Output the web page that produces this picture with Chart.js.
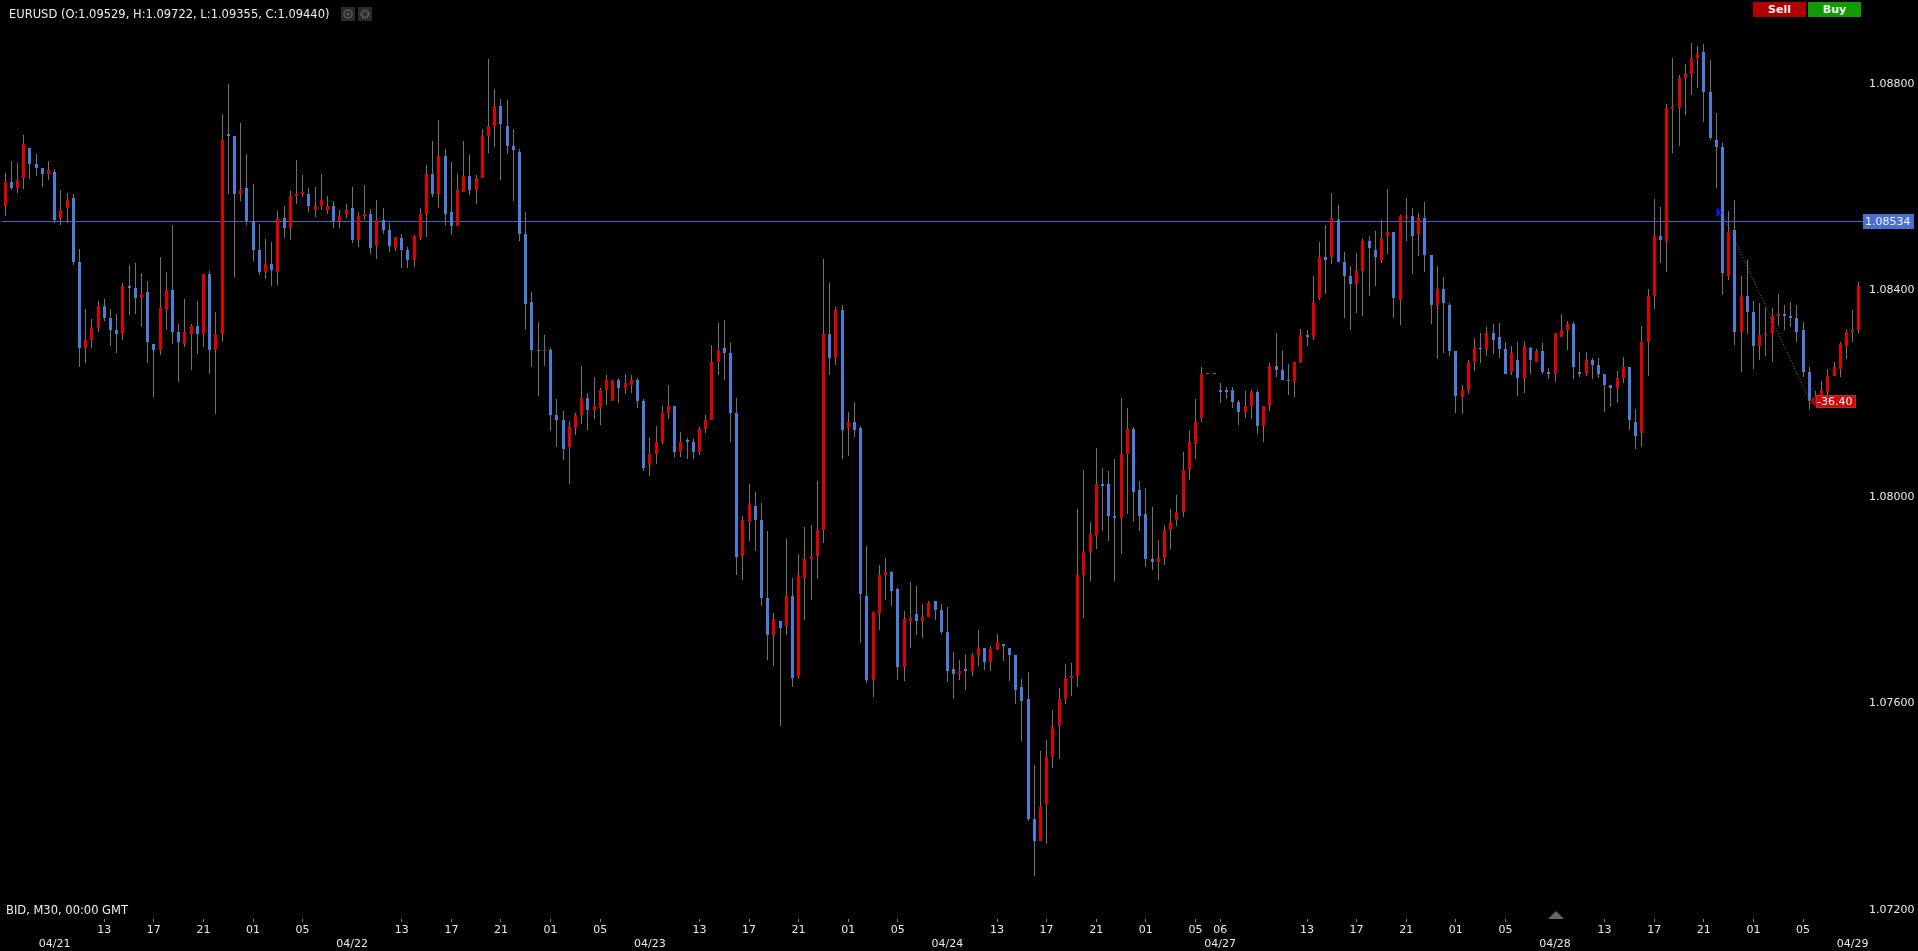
<!DOCTYPE html>
<html>
<head>
<meta charset="utf-8">
<title>EURUSD</title>
<script src="https://cdn.jsdelivr.net/npm/chart.js@4"></script>
<style>
  html, body { margin: 0; padding: 0; background: #000; overflow: hidden; }
  #wrap { position: relative; width: 1918px; height: 951px; }
  #chart { position: absolute; left: 0; top: 0; }
  .txt { position: absolute; color: #f0f0e0; font: 11.5px "DejaVu Sans", sans-serif; white-space: nowrap; }
  .btn { position: absolute; top: 2px; width: 53px; height: 15px; color: #eee; font: bold 11px/15px "DejaVu Sans", sans-serif; text-align: center; }
  .ico { position: absolute; top: 7px; width: 14px; height: 14px; background: #2a2a2a; }
  #marker { position: absolute; left: 1548px; top: 911px; width: 0; height: 0; border-left: 8px solid transparent; border-right: 8px solid transparent; border-bottom: 8px solid #666; }
</style>
</head>
<body>
<div id="wrap">
  <canvas id="chart" width="1918" height="951"></canvas>
  <div class="txt" style="left:9px;top:7px">EURUSD (O:1.09529, H:1.09722, L:1.09355, C:1.09440)</div>
  <div class="ico" style="left:341px"><svg width="14" height="14"><circle cx="7" cy="7" r="4" fill="none" stroke="#5c5c5c" stroke-width="1.5"/><circle cx="7" cy="7" r="1.5" fill="#5c5c5c"/></svg></div>
  <div class="ico" style="left:358px"><svg width="14" height="14"><circle cx="7" cy="7" r="3.5" fill="none" stroke="#5c5c5c" stroke-width="2.5" stroke-dasharray="1.5 0.7"/></svg></div>
  <div class="btn" style="left:1753px;background:#b00000">Sell</div>
  <div class="btn" style="left:1808px;background:#129a00">Buy</div>
  <div class="txt" style="left:6px;top:903px">BID, M30, 00:00 GMT</div>
  <div id="marker"></div>
</div>
<script>
// ── Data, in points (1 point = 0.00001) ───────
const opens = [
  108564,108610,108598,108618,108676,108645,108637,108625,108629,108540,
  108560,108579,108455,108289,108304,108327,108370,108347,108323,108316,
  108409,108405,108385,108397,108296,108285,108362,108401,108320,108296,
  108316,108331,108316,108432,108285,108316,108703,108699,108587,108598,
  108534,108478,108436,108451,108436,108540,108521,108583,108587,108587,
  108556,108564,108556,108564,108534,108549,108560,108498,108545,108549,
  108487,108537,108518,108483,108502,108479,108459,108502,108549,108626,
  108587,108661,108552,108525,108591,108622,108595,108618,108700,108719,
  108758,108719,108680,108669,108510,108378,108285,108282,108285,108158,
  108150,108096,108134,108158,108192,108169,108173,108208,108185,108227,
  108212,108216,108227,108185,108061,108084,108107,108162,108177,108088,
  108111,108107,108088,108131,108150,108262,108289,108278,108162,107886,
  107952,107983,107956,107805,107732,107759,107751,107809,107654,107844,
  107879,107886,107937,108316,108270,108363,108134,108146,108134,107809,
  107646,107774,107848,107855,107821,107670,107759,107774,107759,107767,
  107798,107782,107739,107666,107658,107666,107662,107693,107708,107681,
  107705,107716,107708,107693,107631,107608,107376,107333,107406,107496,
  107557,107608,107650,107654,107848,107894,107925,108026,108026,107964,
  107960,108084,108131,108014,107968,107879,107874,107882,107936,107956,
  107971,108052,108103,108153,108238,108238,108207,108207,108207,108184,
  108165,108176,108203,108138,108176,108254,108246,108227,108224,108262,
  108313,108309,108386,108464,108464,108537,108456,108429,108413,108437,
  108495,108479,108460,108506,108514,108382,108541,108545,108510,108541,
  108468,108371,108402,108371,108282,108193,108208,108262,108289,108286,
  108317,108309,108286,108243,108266,108231,108289,108262,108282,108243,
  108239,108309,108324,108336,108243,108239,108266,108255,108239,108216,
  108212,108231,108251,108146,108123,108301,108390,108506,108495,108752,
  108754,108812,108820,108851,108862,108785,108692,108677,108429,108518,
  108320,108390,108359,108293,108313,108316,108351,108355,108351,108347,
  108324,108243,108185,108195,108204,108235,108247,108293,108320,108324
];
const closes = [
  108610,108598,108614,108684,108645,108637,108625,108633,108536,108556,
  108575,108455,108289,108304,108327,108370,108347,108323,108316,108409,
  108405,108385,108393,108300,108285,108366,108401,108320,108300,108320,
  108331,108316,108432,108285,108316,108691,108699,108587,108594,108534,
  108478,108436,108451,108440,108540,108521,108583,108587,108591,108564,
  108564,108576,108564,108534,108545,108556,108498,108545,108549,108483,
  108537,108518,108487,108502,108479,108459,108506,108549,108626,108587,
  108661,108549,108525,108595,108622,108595,108618,108700,108719,108758,
  108723,108680,108672,108510,108374,108285,108282,108285,108158,108150,
  108092,108138,108158,108192,108169,108177,108208,108227,108227,108212,
  108220,108227,108185,108057,108084,108107,108162,108177,108088,108107,
  108107,108088,108131,108150,108262,108285,108278,108162,107883,107956,
  107987,107956,107805,107732,107763,107747,107809,107650,107848,107879,
  107886,107937,108316,108270,108363,108130,108146,108130,107813,107646,
  107778,107848,107855,107817,107670,107763,107766,107759,107767,107794,
  107782,107739,107662,107658,107662,107662,107693,107708,107681,107705,
  107720,107712,107693,107627,107604,107376,107333,107399,107496,107554,
  107608,107650,107654,107848,107894,107929,108026,108022,107964,107960,
  108084,108131,108010,107964,107879,107875,107882,107936,107952,107971,
  108052,108107,108145,108238,108240,108240,108203,108203,108184,108165,
  108176,108203,108138,108176,108254,108246,108227,108224,108262,108313,
  108309,108378,108464,108460,108541,108456,108429,108413,108437,108495,
  108483,108464,108502,108514,108386,108545,108545,108506,108541,108468,
  108371,108402,108375,108282,108196,108208,108262,108289,108286,108317,
  108305,108286,108239,108278,108231,108293,108266,108282,108243,108239,
  108317,108324,108336,108251,108239,108266,108255,108239,108216,108212,
  108231,108251,108150,108119,108301,108390,108506,108498,108754,108756,
  108812,108820,108851,108859,108785,108696,108677,108433,108514,108320,
  108390,108359,108293,108313,108316,108351,108355,108351,108347,108320,
  108243,108185,108195,108208,108235,108251,108297,108320,108324,108409
];
const highs = [
  108627,108650,108646,108701,108676,108664,108637,108650,108636,108594,
  108588,108586,108480,108365,108344,108379,108383,108365,108354,108414,
  108449,108453,108433,108418,108296,108464,108435,108526,108336,108383,
  108335,108379,108432,108437,108358,108742,108800,108699,108724,108664,
  108607,108528,108499,108493,108553,108563,108593,108652,108623,108598,
  108600,108625,108583,108574,108556,108568,108600,108552,108604,108558,
  108575,108559,108531,108504,108509,108485,108508,108559,108643,108689,
  108730,108674,108649,108625,108689,108662,108623,108712,108848,108790,
  108770,108769,108712,108674,108552,108397,108339,108314,108289,108190,
  108167,108147,108163,108253,108202,108233,108212,108236,108227,108231,
  108238,108236,108231,108189,108117,108138,108176,108216,108177,108125,
  108114,108112,108136,108159,108294,108337,108342,108298,108192,107964,
  108025,108010,107988,107934,107776,107759,107919,107843,107890,107942,
  107946,108031,108461,108414,108368,108372,108165,108184,108138,107905,
  107778,107868,107882,107857,107824,107779,107835,107828,107793,107799,
  107798,107793,107787,107700,107685,107694,107698,107743,107708,107712,
  107735,107716,107708,107693,107648,107661,107481,107508,107530,107587,
  107630,107677,107679,107977,108053,107952,108095,108056,108051,108074,
  108191,108172,108136,108031,108018,107981,107916,107945,107976,108003,
  108088,108127,108189,108251,108240,108240,108220,108214,108214,108187,
  108205,108207,108208,108176,108259,108317,108283,108258,108262,108326,
  108324,108428,108494,108526,108589,108566,108475,108448,108473,108500,
  108506,108515,108537,108597,108514,108547,108579,108560,108550,108571,
  108468,108448,108426,108376,108283,108216,108266,108308,108318,108329,
  108335,108337,108300,108293,108300,108302,108291,108287,108299,108250,
  108317,108355,108341,108339,108280,108280,108270,108270,108239,108216,
  108245,108272,108251,108171,108332,108403,108578,108562,108762,108850,
  108818,108839,108879,108873,108877,108846,108744,108686,108553,108575,
  108428,108460,108380,108375,108367,108367,108394,108371,108378,108371,
  108339,108251,108206,108225,108247,108262,108301,108326,108363,108417
];
const lows = [
  108544,108594,108589,108596,108616,108622,108600,108614,108531,108527,
  108531,108449,108252,108260,108289,108320,108341,108292,108279,108304,
  108352,108354,108329,108260,108194,108275,108323,108296,108223,108291,
  108246,108277,108291,108238,108161,108300,108587,108426,108573,108527,
  108457,108430,108422,108409,108411,108502,108498,108567,108581,108552,
  108542,108556,108549,108521,108521,108541,108492,108485,108537,108471,
  108461,108510,108475,108477,108444,108444,108446,108498,108504,108581,
  108560,108527,108508,108525,108591,108585,108568,108618,108667,108678,
  108614,108665,108574,108496,108326,108251,108196,108253,108127,108096,
  108071,108026,108121,108142,108129,108152,108140,108179,108185,108183,
  108200,108202,108173,108051,108040,108063,108103,108152,108078,108078,
  108074,108074,108082,108123,108150,108237,108227,108107,107848,107840,
  107915,107896,107788,107685,107673,107557,107732,107631,107648,107761,
  107801,107842,107910,108237,108256,108074,108080,108117,107718,107639,
  107613,107743,107801,107788,107646,107644,107708,107733,107726,107767,
  107761,107734,107641,107608,107645,107627,107654,107672,107664,107662,
  107703,107683,107643,107600,107527,107372,107265,107333,107327,107476,
  107492,107600,107614,107631,107765,107838,107900,107935,107914,107838,
  107890,107968,107954,107935,107865,107858,107839,107868,107899,107944,
  107961,108033,108074,108145,108238,108238,108182,108190,108172,108139,
  108153,108151,108122,108107,108167,108232,108227,108198,108193,108260,
  108293,108305,108382,108394,108452,108456,108346,108324,108357,108351,
  108390,108408,108454,108471,108347,108334,108495,108431,108466,108435,
  108336,108268,108278,108274,108162,108160,108200,108245,108260,108274,
  108276,108270,108239,108237,108196,108202,108239,108262,108239,108229,
  108222,108309,108284,108229,108233,108235,108229,108231,108164,108175,
  108183,108220,108129,108092,108096,108235,108365,108454,108435,108667,
  108680,108739,108779,108793,108727,108692,108599,108392,108421,108295,
  108243,108315,108247,108266,108274,108262,108332,108324,108330,108301,
  108233,108171,108182,108189,108198,108235,108233,108268,108301,108318
];

const hourTicks = [
  [16,'13'],[24,'17'],[32,'21'],[40,'01'],[48,'05'],
  [64,'13'],[72,'17'],[80,'21'],[88,'01'],[96,'05'],
  [112,'13'],[120,'17'],[128,'21'],[136,'01'],[144,'05'],
  [160,'13'],[168,'17'],[176,'21'],[184,'01'],[192,'05'],[196,'06'],
  [210,'13'],[218,'17'],[226,'21'],[234,'01'],[242,'05'],
  [258,'13'],[266,'17'],[274,'21'],[282,'01'],[290,'05']
];
const dateTicks = [[8,'04/21'],[56,'04/22'],[104,'04/23'],[152,'04/24'],[196,'04/27'],[250,'04/28'],[298,'04/29']];
const priceTicks = [1.072, 1.076, 1.08, 1.084, 1.088];
const currentPrice = 1.08534;
const trade = { from: 277, to: 291, open: 1.08549, close: 1.08189, pips: '-36.40' };
const yMin = 1.071826, yMax = 1.089239;

const RED = '#e00000', BLUE = '#4c7dd8', GREY = '#727272';

// ── Labels for the two-row time axis ──────────
const hourAt = Object.fromEntries(hourTicks);
const dateAt = Object.fromEntries(dateTicks);
const labels = opens.map((_, i) => [hourAt[i] || '', dateAt[i] || '']);

const toPrice = v => v / 100000;
const bodyColor = (o, c) => Math.abs(c - o) < 3 ? GREY : (c > o ? RED : BLUE);

// ── Snap bars to whole pixels, the way the terminal draws them ──
const snapBars = {
  id: 'snapBars',
  beforeDatasetsDraw(chart) {
    chart.data.datasets.forEach((ds, n) => {
      if (ds.type === 'line') return;
      chart.getDatasetMeta(n).data.forEach(el => {
        el.x = Math.floor(el.x) + 0.5;
        el.y = Math.round(el.y);
        el.base = Math.round(el.base);
      });
    });
  }
};

// ── Current price line and the two tags ───────
const overlays = {
  id: 'overlays',
  beforeDatasetsDraw(chart) {
    const { ctx, chartArea, scales } = chart;
    const y = Math.floor(scales.y.getPixelForValue(currentPrice));
    ctx.save();
    ctx.fillStyle = '#3f5fc4';
    ctx.fillRect(chartArea.left, y, chartArea.width + 2, 1);
    ctx.restore();
  },
  afterDraw(chart) {
    const { ctx, chartArea, scales } = chart;
    const y = Math.floor(scales.y.getPixelForValue(currentPrice));
    ctx.save();
    ctx.font = '11px "DejaVu Sans", sans-serif';
    ctx.textBaseline = 'middle';

    // price tag on the axis
    ctx.fillStyle = '#4a6fd4';
    ctx.fillRect(chartArea.right + 1, y - 7, 51, 15);
    ctx.fillStyle = '#f4f4f4';
    ctx.textAlign = 'left';
    ctx.fillText(currentPrice.toFixed(5), chartArea.right + 3, y + 1);

    // entry arrow
    const ex = scales.x.getPixelForValue(trade.from);
    const ey = scales.y.getPixelForValue(trade.open);
    ctx.fillStyle = '#1414e6';
    ctx.beginPath();
    ctx.moveTo(ex - 6, ey - 6);
    ctx.lineTo(ex, ey - 1);
    ctx.lineTo(ex - 6, ey + 4);
    ctx.closePath();
    ctx.fill();

    // result tag at the exit
    const tx = Math.floor(scales.x.getPixelForValue(trade.to));
    const ty = Math.round(scales.y.getPixelForValue(trade.close));
    ctx.fillStyle = '#8e0c0c';
    ctx.beginPath();
    ctx.moveTo(tx, ty + 2);
    ctx.lineTo(tx + 7, ty - 4);
    ctx.lineTo(tx + 7, ty + 8);
    ctx.closePath();
    ctx.fill();
    ctx.fillStyle = '#d80808';
    ctx.strokeStyle = '#a33';
    ctx.fillRect(tx + 7, ty - 4, 40, 13);
    ctx.strokeRect(tx + 7.5, ty - 3.5, 39, 12);
    ctx.fillStyle = '#fff';
    ctx.fillText(trade.pips, tx + 8, ty + 3);
    ctx.restore();
  }
};

// ── Chart ─────────────────────────────────────
new Chart(document.getElementById('chart').getContext('2d'), {
  type: 'bar',
  plugins: [snapBars, overlays],
  data: {
    labels,
    datasets: [
      {
        type: 'line',
        data: labels.map((_, i) => i === trade.from ? trade.open : i === trade.to ? trade.close : null),
        spanGaps: true,
        borderColor: '#777',
        borderWidth: 1,
        borderDash: [1, 2],
        pointRadius: 0,
        order: 0
      },
      {
        data: opens.map((o, i) => [toPrice(o), toPrice(closes[i])]),
        backgroundColor: opens.map((o, i) => bodyColor(o, closes[i])),
        barThickness: 3,
        grouped: false,
        inflateAmount: 0,
        order: 1
      },
      {
        data: lows.map((l, i) => [toPrice(l), toPrice(highs[i])]),
        backgroundColor: GREY,
        barThickness: 1,
        grouped: false,
        inflateAmount: 0,
        order: 2
      }
    ]
  },
  options: {
    responsive: false,
    animation: false,
    layout: { padding: { left: 1.9, top: 20, right: 0, bottom: 0 } },
    plugins: { legend: { display: false }, tooltip: { enabled: false } },
    scales: {
      x: {
        offset: true,
        border: { display: false },
        afterFit: s => { s.height = 32; },
        grid: {
          offset: false,
          drawOnChartArea: false,
          tickLength: 3,
          tickColor: c => hourAt[c.index] ? '#777' : 'transparent'
        },
        ticks: {
          autoSkip: false,
          maxRotation: 0,
          minRotation: 0,
          padding: 1,
          color: '#e8e8e8',
          font: { family: '"DejaVu Sans", sans-serif', size: 11, lineHeight: 14 / 11 }
        }
      },
      y: {
        position: 'right',
        min: yMin,
        max: yMax,
        border: { display: false },
        grid: { display: false, drawTicks: false },
        afterFit: s => { s.width = 56.1; },
        afterBuildTicks: s => { s.ticks = priceTicks.map(value => ({ value })); },
        ticks: {
          padding: 7,
          color: '#e8e8e8',
          font: { family: '"DejaVu Sans", sans-serif', size: 11 },
          callback: v => v.toFixed(5)
        }
      }
    }
  }
});
</script>
</body>
</html>
